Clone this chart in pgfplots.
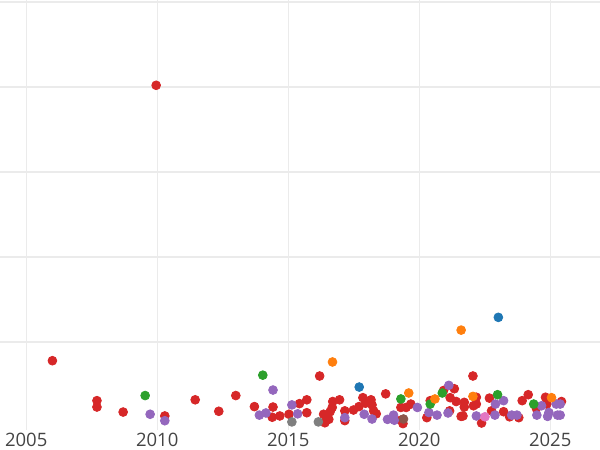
\documentclass[border=0pt]{standalone}
\usepackage{pgfplots}
\pgfplotsset{compat=1.18}
\usepackage{fontspec}
\setmainfont{Open Sans}
\definecolor{pred}{HTML}{D62728}
\definecolor{ppurple}{HTML}{9467BD}
\definecolor{pgreen}{HTML}{2CA02C}
\definecolor{porange}{HTML}{FF7F0E}
\definecolor{pblue}{HTML}{1F77B4}
\definecolor{pgray}{HTML}{7F7F7F}
\definecolor{pbrown}{HTML}{8C564B}
\definecolor{ppink}{HTML}{E377C2}
\definecolor{gridc}{HTML}{EBEBEB}
\definecolor{tickc}{HTML}{444444}
\begin{document}
\begin{tikzpicture}
\path[use as bounding box] (0,0) rectangle (300pt,-225pt);
\begin{axis}[
  at={(0,0)}, anchor=north west,
  scale only axis, width=300pt, height=215pt,
  xmin=2004.0, xmax=2026.9,
  ymin=-0.0353, ymax=5.0235,
  xtick={2005,2010,2015,2020,2025},
  ytick={1,2,3,4,5},
  yticklabels={},
  xmajorgrids, ymajorgrids,
  grid style={gridc, line width=0.6pt},
  axis line style={draw=none},
  tick style={draw=none},
  major tick length=0pt,
  /pgf/number format/1000 sep={},
  /pgf/number format/assume math mode=true,
  xticklabel style={font=\fontsize{9.25}{11}\selectfont, text=tickc, yshift=2.2pt},
  clip=false,
  every axis plot/.append style={only marks, mark=*, mark size=2.2pt},
]
\addplot[pred, mark options={draw=none, fill=pred}] coordinates {
(2006.0,0.78) (2007.7,0.31) (2007.7,0.235) (2008.7,0.176) (2009.96,4.02)
(2010.29,0.13) (2011.45,0.32) (2012.35,0.185) (2013.0,0.37) (2013.71,0.24)
(2014.42,0.235) (2014.39,0.115) (2014.68,0.13) (2015.03,0.15) (2015.43,0.275)
(2015.71,0.32) (2015.71,0.168) (2016.2,0.60) (2016.35,0.15) (2016.48,0.10)
(2016.4,0.05) (2016.55,0.09)
(2016.6,0.18) (2016.7,0.30) (2016.68,0.23) (2016.96,0.32) (2017.16,0.19)
(2017.16,0.075) (2017.49,0.20) (2017.7,0.24) (2017.85,0.345) (2017.95,0.28)
(2018.16,0.32) (2018.2,0.26) (2018.26,0.19) (2018.36,0.155) (2018.72,0.39)
(2019.3,0.23) (2019.5,0.23) (2019.68,0.27) (2019.38,0.04) (2019.3,0.08)
(2020.29,0.11) (2020.42,0.31) (2020.93,0.43) (2021.34,0.45) (2021.18,0.345)
(2021.41,0.30) (2021.16,0.19) (2021.6,0.125) (2022.05,0.60) (2022.18,0.35)
(2021.72,0.29) (2021.72,0.235) (2022.07,0.25) (2022.18,0.27) (2021.67,0.13)
(2022.38,0.047) (2022.68,0.34) (2022.76,0.19) (2023.22,0.18) (2023.45,0.12)
(2023.8,0.11) (2023.93,0.31) (2024.16,0.38) (2024.47,0.22) (2024.82,0.35)
(2024.87,0.27) (2025.43,0.30)
};
\addplot[ppurple, mark options={draw=none, fill=ppurple}] coordinates {
(2009.73,0.15) (2010.29,0.074) (2013.9,0.14) (2014.15,0.165) (2014.42,0.435)
(2015.14,0.26) (2015.36,0.155) (2017.16,0.11) (2017.9,0.15) (2018.2,0.094)
(2018.79,0.09) (2019.02,0.14) (2019.05,0.08) (2019.93,0.23) (2020.37,0.17)
(2020.68,0.14) (2021.13,0.49) (2021.1,0.165) (2022.18,0.13) (2022.91,0.27)
(2023.22,0.31) (2022.89,0.14) (2023.53,0.14) (2023.73,0.14) (2024.49,0.14)
(2024.67,0.25) (2024.9,0.125) (2024.95,0.17) (2025.23,0.27) (2025.38,0.27)
(2025.28,0.14) (2025.38,0.14)
};
\addplot[pgreen, mark options={draw=none, fill=pgreen}] coordinates {
(2009.54,0.37) (2014.03,0.61) (2019.3,0.33) (2020.42,0.27) (2020.88,0.40)
(2022.99,0.38) (2024.37,0.27)
};
\addplot[porange, mark options={draw=none, fill=porange}] coordinates {
(2016.69,0.765) (2019.6,0.40) (2020.6,0.33) (2021.6,1.14) (2022.05,0.36)
(2025.05,0.345)
};
\addplot[pblue, mark options={draw=none, fill=pblue}] coordinates {
(2017.71,0.47) (2023.02,1.29)
};
\addplot[pgray, mark options={draw=none, fill=pgray}] coordinates {
(2015.14,0.06) (2016.15,0.06)
};
\addplot[pbrown, mark options={draw=none, fill=pbrown}] coordinates {
(2019.4,0.094)
};
\addplot[ppink, mark options={draw=none, fill=ppink}] coordinates {
(2022.51,0.12)
};
\end{axis}
\end{tikzpicture}
\end{document}
